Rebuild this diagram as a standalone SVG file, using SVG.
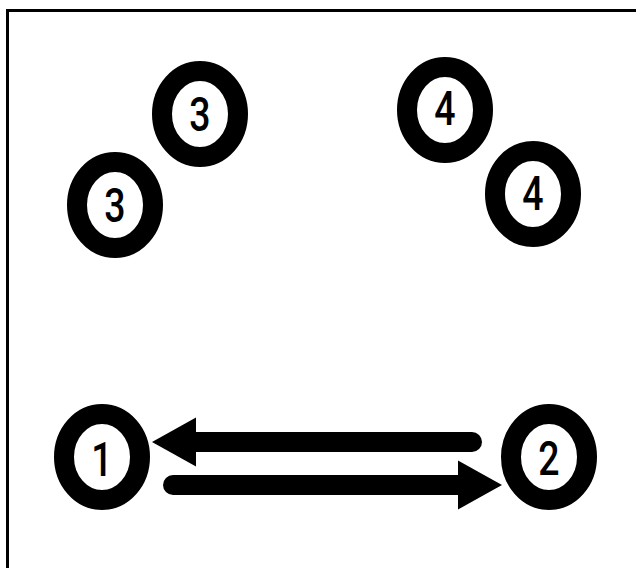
<svg xmlns="http://www.w3.org/2000/svg" width="636" height="568" viewBox="0 0 636 568">
<style>
.ring{fill:#fff;stroke:#000;stroke-width:20}
.lbl{font-family:Roboto,"Liberation Sans",Arial,sans-serif;font-weight:500;font-size:48px;fill:#000;text-anchor:middle}
.conn{fill:none;stroke:#000;stroke-width:20;stroke-linecap:round}
</style>
<defs>
<marker id="head" markerUnits="userSpaceOnUse" markerWidth="44" markerHeight="50" refX="0" refY="24.5" orient="auto" overflow="visible">
<path d="M0,0 L44,24.5 L0,49 Z" fill="#000"/>
</marker>
</defs>
<rect width="636" height="568" fill="#fff"/>
<rect x="7.5" y="10.5" width="700" height="600" fill="none" stroke="#000" stroke-width="3"/>
<g id="connectors">
<path class="conn" d="M472,442 L196,442" marker-end="url(#head)"/>
<path class="conn" d="M173,485 L458,485" marker-end="url(#head)"/>
</g>
<g id="node-3a"><ellipse class="ring" cx="200" cy="114" rx="38" ry="43"/><text class="lbl" transform="translate(200,131) scale(0.78,1)">3</text></g>
<g id="node-3b"><ellipse class="ring" cx="115" cy="205" rx="38" ry="43"/><text class="lbl" transform="translate(115,222) scale(0.78,1)">3</text></g>
<g id="node-4a"><ellipse class="ring" cx="445" cy="110" rx="38" ry="43"/><text class="lbl" transform="translate(445,125) scale(0.78,1)">4</text></g>
<g id="node-4b"><ellipse class="ring" cx="533" cy="194" rx="38" ry="43"/><text class="lbl" transform="translate(533,210) scale(0.78,1)">4</text></g>
<g id="node-1"><ellipse class="ring" cx="102" cy="457" rx="38" ry="43"/><text class="lbl" transform="translate(102,476) scale(0.78,1)">1</text></g>
<g id="node-2"><ellipse class="ring" cx="549" cy="457" rx="38" ry="43"/><text class="lbl" transform="translate(549,475) scale(0.78,1)">2</text></g>
</svg>
